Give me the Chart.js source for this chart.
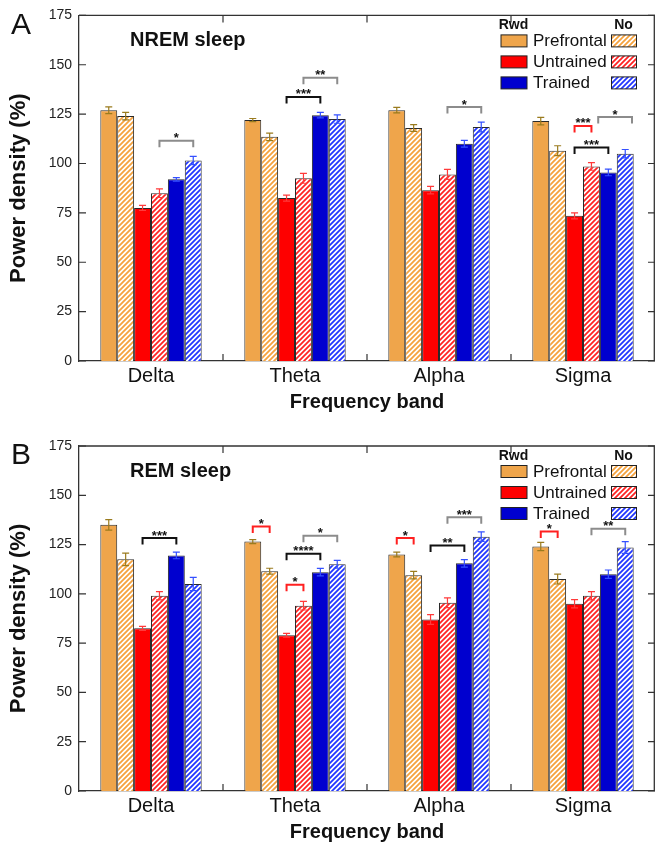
<!DOCTYPE html>
<html>
<head>
<meta charset="utf-8">
<script src="https://cdn.jsdelivr.net/npm/chart.js@4.4.1/dist/chart.umd.min.js"></script>
<style>
  body { margin: 0; background: #fff; width: 655px; height: 846px; overflow: hidden; }
  .panel { position: absolute; left: 0; width: 655px; height: 423px; }
</style>
</head>
<body>
<div class="panel" style="top:0"><canvas id="chartA" width="655" height="423"></canvas></div>
<div class="panel" style="top:423px"><canvas id="chartB" width="655" height="423"></canvas></div>
<script>
/* ---------- DATA ---------- */
const bands = ["Delta", "Theta", "Alpha", "Sigma"];
const yTicks = [0, 25, 50, 75, 100, 125, 150, 175];

// NREM sleep (panel A)
const nremPrefRwd = [127, 122, 127, 121.5];
const nremPrefNo  = [124, 113.5, 118, 106.5];
const nremUntrRwd = [77.5, 82.5, 86.5, 73.5];
const nremUntrNo  = [85, 92.5, 94.5, 98.5];
const nremTrRwd   = [92, 124.5, 110, 95.5];
const nremTrNo    = [101.5, 122.5, 118.5, 105];

const nremPrefRwdErr = [1.7, 0.8, 1.4, 1.9];
const nremPrefNoErr  = [1.9, 1.9, 1.7, 2.5];
const nremUntrRwdErr = [1.3, 1.5, 1.9, 1.5];
const nremUntrNoErr  = [2.2, 2.5, 2.5, 1.9];
const nremTrRwdErr   = [0.9, 1.4, 1.7, 1.7];
const nremTrNoErr    = [2.1, 2.1, 2.5, 2.1];

// REM sleep (panel B)
const remPrefRwd = [135, 126.5, 120, 124];
const remPrefNo  = [117.5, 111.5, 109.5, 107.5];
const remUntrRwd = [82.5, 79, 87, 95];
const remUntrNo  = [99, 94, 95.5, 99];
const remTrRwd   = [119.5, 111, 115.5, 110];
const remTrNo    = [105, 115, 129, 123.5];

const remPrefRwdErr = [2.7, 1, 1.2, 2.1];
const remPrefNoErr  = [3.2, 1.5, 1.9, 2.5];
const remUntrRwdErr = [1, 1, 2.5, 2.1];
const remUntrNoErr  = [2.1, 2.2, 2.5, 2.1];
const remTrRwdErr   = [1.7, 1.9, 1.9, 2.1];
const remTrNoErr    = [3.4, 2, 2.4, 3];

// significance: [band, from bar, to bar, level (%), stars, kind]
// kind: "rwd" = Rwd vs No, "trRwd" = Untrained vs Trained (Rwd), "trNo" = Untrained vs Trained (No)
const nremSig = [
  [0, 3, 5, 111.5, "*", "trNo"],
  [1, 2, 4, 133.7, "***", "trRwd"],
  [1, 3, 5, 143.4, "**", "trNo"],
  [2, 3, 5, 128.6, "*", "trNo"],
  [3, 2, 3, 119, "***", "rwd"],
  [3, 2, 4, 108.1, "***", "trRwd"],
  [3, 3.4, 5.4, 123.5, "*", "trNo"]
];
const remSig = [
  [0, 2, 4, 128.3, "***", "trRwd"],
  [1, 0, 1, 134.2, "*", "rwd"],
  [1, 3, 5, 129.5, "*", "trNo"],
  [1, 2, 4, 120.3, "****", "trRwd"],
  [1, 2, 3, 104.6, "*", "rwd"],
  [2, 0, 1, 128.3, "*", "rwd"],
  [2, 2, 4, 124.5, "**", "trRwd"],
  [2, 3, 5, 138.9, "***", "trNo"],
  [3, 0, 1, 131.6, "*", "rwd"],
  [3, 3, 5, 133, "**", "trNo"]
];

/* ---------- STYLE ---------- */
const FONT = "'Liberation Sans', Arial, Helvetica, sans-serif";
const AXIS = "#333";
const ORANGE = "#EFA54B", RED = "#FE0000", BLUE = "#0000CF";
const ERR = ["#9A7B1E", "#9A7B1E", "#FF3A3A", "#FF3A3A", "#3450FF", "#3450FF"];
const SIG = { rwd: "#FF2020", trRwd: "#111", trNo: "#8C8C8C" };

function hatch(color) {
  const s = 5;
  const c = document.createElement("canvas");
  c.width = c.height = s;
  const g = c.getContext("2d");
  g.fillStyle = "#fff";
  g.fillRect(0, 0, s, s);
  g.strokeStyle = color;
  g.lineWidth = 1.8;
  g.beginPath();
  g.moveTo(-1, s + 1); g.lineTo(s + 1, -1);
  g.moveTo(-1, 1); g.lineTo(1, -1);
  g.moveTo(s - 1, s + 1); g.lineTo(s + 1, s - 1);
  g.stroke();
  return g.createPattern(c, "repeat");
}

const fills = [ORANGE, hatch("#F5A23E"), RED, hatch("#FF2424"), BLUE, hatch("#2236FF")];

/* ---------- PANEL PLUGIN ---------- */
function panelPlugin(spec) {
  return {
    id: "panel",
    afterDatasetsDraw(chart) {
      const ctx = chart.ctx;
      const y = chart.scales.y;
      // error bars
      spec.errors.forEach((errs, k) => {
        const meta = chart.getDatasetMeta(k);
        meta.data.forEach((bar, j) => {
          const v = chart.data.datasets[k].data[j];
          const top = y.getPixelForValue(v + errs[j]);
          const bot = y.getPixelForValue(v - errs[j]);
          ctx.save();
          ctx.strokeStyle = ERR[k];
          ctx.lineWidth = 1.2;
          ctx.beginPath();
          ctx.moveTo(bar.x, top); ctx.lineTo(bar.x, bot);
          ctx.moveTo(bar.x - 3.5, top); ctx.lineTo(bar.x + 3.5, top);
          ctx.moveTo(bar.x - 3.5, bot); ctx.lineTo(bar.x + 3.5, bot);
          ctx.stroke();
          ctx.restore();
        });
      });
      // significance brackets
      const barW = chart.getDatasetMeta(0).data[0].width;
      const xOf = (band, pos) => {
        const i = Math.floor(pos);
        return chart.getDatasetMeta(i).data[band].x + (pos - i) * barW;
      };
      spec.sig.forEach(([band, a, b, level, stars, kind]) => {
        const x1 = xOf(band, a), x2 = xOf(band, b);
        const ly = y.getPixelForValue(level);
        ctx.save();
        ctx.strokeStyle = SIG[kind];
        ctx.lineWidth = 2;
        ctx.beginPath();
        ctx.moveTo(x1, ly + 6.5); ctx.lineTo(x1, ly); ctx.lineTo(x2, ly); ctx.lineTo(x2, ly + 6.5);
        ctx.stroke();
        ctx.fillStyle = "#111";
        ctx.font = "bold 13px " + FONT;
        ctx.textAlign = "center";
        ctx.textBaseline = "alphabetic";
        ctx.fillText(stars, (x1 + x2) / 2, ly + 1.5);
        ctx.restore();
      });
    },
    afterDraw(chart) {
      const ctx = chart.ctx;
      const { left, right, top, bottom } = chart.chartArea;
      const x = chart.scales.x, y = chart.scales.y;
      ctx.save();
      // top + right spines
      ctx.strokeStyle = AXIS;
      ctx.lineWidth = 1.3;
      ctx.beginPath();
      ctx.moveTo(left, top); ctx.lineTo(right - 0.7, top); ctx.lineTo(right - 0.7, bottom);
      ctx.stroke();
      // inward ticks
      ctx.lineWidth = 1.2;
      ctx.beginPath();
      yTicks.forEach(v => {
        const py = y.getPixelForValue(v);
        ctx.moveTo(left, py); ctx.lineTo(left + 7, py);
        ctx.moveTo(right, py); ctx.lineTo(right - 7, py);
      });
      for (let i = 1; i < bands.length; i++) {
        const px = (x.getPixelForValue(i - 1) + x.getPixelForValue(i)) / 2;
        ctx.moveTo(px, bottom); ctx.lineTo(px, bottom - 7);
        ctx.moveTo(px, top); ctx.lineTo(px, top + 7);
      }
      ctx.stroke();

      // texts
      ctx.fillStyle = "#111";
      ctx.textBaseline = "middle";
      ctx.textAlign = "left";
      ctx.font = "30px " + FONT;
      ctx.fillText(spec.letter, 11, top + 10);
      ctx.font = "bold 20px " + FONT;
      ctx.fillText(spec.title, 130, top + 25.5);

      ctx.textAlign = "center";
      ctx.font = "bold 20px " + FONT;
      ctx.fillText("Frequency band", (left + right) / 2, bottom + 41.5);
      ctx.save();
      ctx.translate(19, (top + bottom) / 2);
      ctx.rotate(-Math.PI / 2);
      ctx.font = "bold 22px " + FONT;
      ctx.fillText("Power density (%)", 0, 0);
      ctx.restore();

      // legend
      ctx.font = "bold 14px " + FONT;
      ctx.fillText("Rwd", 513.5, top + 10);
      ctx.fillText("No", 623.5, top + 10);
      ["Prefrontal", "Untrained", "Trained"].forEach((name, r) => {
        const by = top + 19.5 + r * 21;
        ctx.fillStyle = fills[r * 2];
        ctx.fillRect(501, by, 26, 12);
        ctx.fillStyle = fills[r * 2 + 1];
        ctx.fillRect(611.5, by, 25, 12);
        ctx.strokeStyle = "#222";
        ctx.lineWidth = 1;
        ctx.strokeRect(501, by, 26, 12);
        ctx.strokeRect(611.5, by, 25, 12);
        ctx.fillStyle = "#111";
        ctx.textAlign = "left";
        ctx.font = "17px " + FONT;
        ctx.fillText(name, 533, by + 6.5);
      });
      ctx.restore();
    }
  };
}

/* ---------- CHART BUILDER ---------- */
function makeChart(id, series, spec, topPad, xHeight) {
  return new Chart(document.getElementById(id), {
    type: "bar",
    data: {
      labels: bands,
      datasets: series.map((d, k) => ({
        data: d,
        backgroundColor: fills[k],
        borderColor: "#2a2a2a",
        borderWidth: 1,
        categoryPercentage: 0.704,
        barPercentage: 1
      }))
    },
    options: {
      responsive: false,
      animation: false,
      layout: { padding: { top: topPad, right: 0, bottom: 0, left: 0 } },
      plugins: { legend: { display: false }, tooltip: { enabled: false } },
      scales: {
        x: {
          grid: { display: false, drawTicks: false },
          border: { display: true, color: AXIS, width: 1.3 },
          ticks: { color: "#111", font: { size: 20, family: FONT }, padding: 3 },
          afterFit(s) { s.height = xHeight; }
        },
        y: {
          min: 0,
          max: 175,
          grid: { display: false, drawTicks: false },
          border: { display: true, color: AXIS, width: 1.3 },
          afterBuildTicks(s) { s.ticks = yTicks.map(v => ({ value: v })); },
          ticks: { color: "#222", font: { size: 14, family: FONT }, padding: 7 },
          afterFit(s) { s.width = 79; }
        }
      }
    },
    plugins: [panelPlugin(spec)]
  });
}

makeChart("chartA",
  [nremPrefRwd, nremPrefNo, nremUntrRwd, nremUntrNo, nremTrRwd, nremTrNo],
  {
    letter: "A", title: "NREM sleep", sig: nremSig,
    errors: [nremPrefRwdErr, nremPrefNoErr, nremUntrRwdErr, nremUntrNoErr, nremTrRwdErr, nremTrNoErr]
  }, 14, 62);

makeChart("chartB",
  [remPrefRwd, remPrefNo, remUntrRwd, remUntrNo, remTrRwd, remTrNo],
  {
    letter: "B", title: "REM sleep", sig: remSig,
    errors: [remPrefRwdErr, remPrefNoErr, remUntrRwdErr, remUntrNoErr, remTrRwdErr, remTrNoErr]
  }, 23, 55);
</script>
</body>
</html>
